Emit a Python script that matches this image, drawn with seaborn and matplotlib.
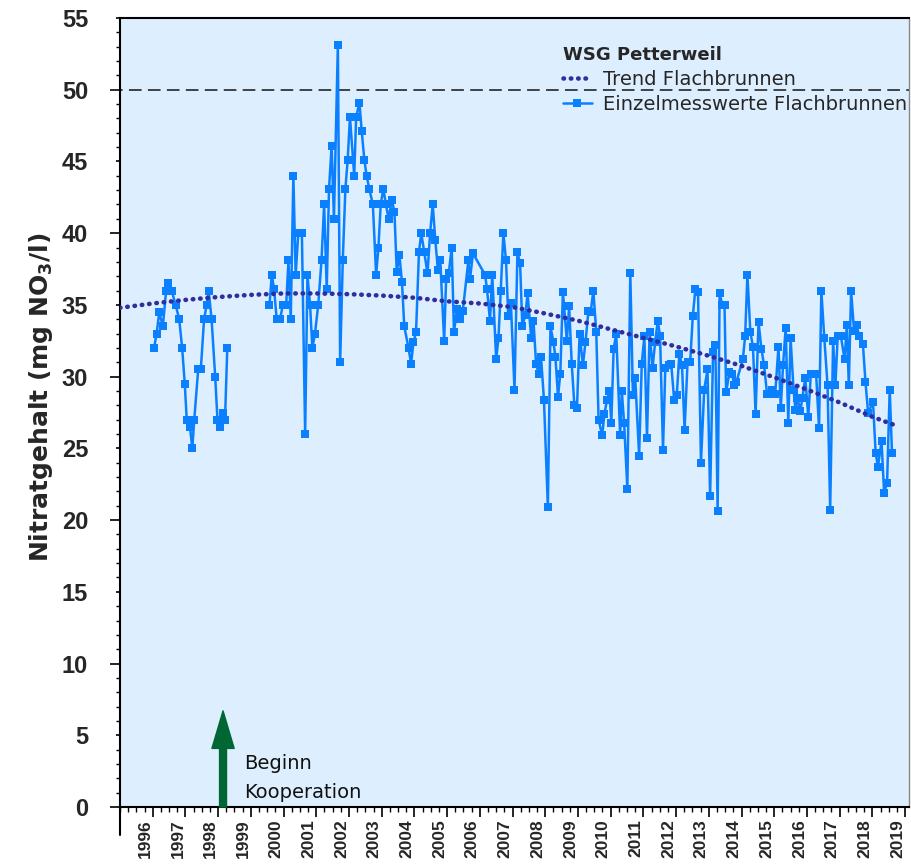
import matplotlib
matplotlib.use("Agg")
import numpy as np
import pandas as pd
import matplotlib.pyplot as plt
from matplotlib.lines import Line2D
from matplotlib.ticker import MultipleLocator, FixedLocator, FixedFormatter, NullFormatter
import seaborn as sns

# --- Einzelmesswerte Flachbrunnen (Dezimaljahr, mg NO3/l) ---
# Abschnitt 1: 1996 - Anfang 1998
jahr_1 = [1996.04, 1996.12, 1996.20, 1996.31, 1996.41, 1996.48, 1996.58, 1996.70,
          1996.81, 1996.90, 1996.98, 1997.04, 1997.14, 1997.21, 1997.27, 1997.39,
          1997.47, 1997.57, 1997.65, 1997.71, 1997.80, 1997.91, 1997.98, 1998.06,
          1998.14, 1998.21, 1998.28]
wert_1 = [32.0, 33.0, 34.5, 33.5, 36.0, 36.5, 36.0, 35.0,
          34.0, 32.0, 29.5, 27.0, 26.5, 25.0, 27.0, 30.5,
          30.5, 34.0, 35.0, 36.0, 34.0, 30.0, 27.0, 26.5,
          27.5, 27.0, 32.0]

# Abschnitt 2: Mitte 1999 - 2018
jahr_2 = [1999.57, 1999.64, 1999.71, 1999.79, 1999.89, 1999.98, 2000.08, 2000.15,
          2000.22, 2000.30, 2000.37, 2000.45, 2000.56, 2000.66, 2000.73, 2000.81,
          2000.88, 2000.96, 2001.06, 2001.16, 2001.24, 2001.32, 2001.39, 2001.47,
          2001.54, 2001.66, 2001.73, 2001.81, 2001.89, 2001.96, 2002.03, 2002.16,
          2002.22, 2002.32, 2002.39, 2002.47, 2002.54, 2002.62, 2002.73, 2002.83,
          2002.90, 2002.97, 2003.05, 2003.13, 2003.21, 2003.31, 2003.39, 2003.46,
          2003.54, 2003.62, 2003.69, 2003.82, 2003.90, 2003.97, 2004.05, 2004.14,
          2004.21, 2004.30, 2004.40, 2004.48, 2004.56, 2004.64, 2004.72, 2004.79,
          2004.91, 2004.97, 2005.05, 2005.14, 2005.21, 2005.30, 2005.38, 2005.48,
          2005.65, 2005.70, 2005.79, 2006.16, 2006.22, 2006.31, 2006.38, 2006.50,
          2006.57, 2006.64, 2006.72, 2006.80, 2006.87, 2006.95, 2007.06, 2007.15,
          2007.23, 2007.30, 2007.39, 2007.46, 2007.57, 2007.64, 2007.72, 2007.80,
          2007.87, 2007.96, 2008.08, 2008.16, 2008.25, 2008.31, 2008.39, 2008.46,
          2008.54, 2008.66, 2008.73, 2008.81, 2008.89, 2008.97, 2009.05, 2009.15,
          2009.23, 2009.32, 2009.39, 2009.47, 2009.56, 2009.63, 2009.74, 2009.81,
          2009.89, 2009.96, 2010.02, 2010.09, 2010.17, 2010.29, 2010.34, 2010.41,
          2010.51, 2010.60, 2010.68, 2010.75, 2010.87, 2010.95, 2011.03, 2011.11,
          2011.19, 2011.28, 2011.36, 2011.44, 2011.51, 2011.60, 2011.67, 2011.77,
          2011.85, 2011.94, 2012.02, 2012.10, 2012.18, 2012.26, 2012.35, 2012.43,
          2012.51, 2012.59, 2012.67, 2012.76, 2012.86, 2012.96, 2013.04, 2013.13,
          2013.20, 2013.27, 2013.33, 2013.41, 2013.48, 2013.53, 2013.63, 2013.71,
          2013.78, 2013.84, 2014.04, 2014.11, 2014.18, 2014.27, 2014.35, 2014.43,
          2014.52, 2014.61, 2014.69, 2014.78, 2014.88, 2014.94, 2015.03, 2015.13,
          2015.20, 2015.27, 2015.35, 2015.43, 2015.50, 2015.59, 2015.65, 2015.71,
          2015.80, 2015.86, 2015.95, 2016.04, 2016.12, 2016.22, 2016.28, 2016.37,
          2016.44, 2016.53, 2016.63, 2016.71, 2016.80, 2016.87, 2016.94, 2017.04,
          2017.15, 2017.22, 2017.28, 2017.35, 2017.44, 2017.52, 2017.60, 2017.71,
          2017.79, 2017.87, 2018.02, 2018.10, 2018.17, 2018.28, 2018.36, 2018.45,
          2018.53, 2018.60]
wert_2 = [35.0, 37.1, 36.1, 34.0, 34.0, 35.0, 35.0, 38.1,
          34.0, 44.0, 37.1, 40.0, 40.0, 26.0, 37.1, 35.0,
          32.0, 33.0, 35.0, 38.1, 42.0, 36.1, 43.1, 46.1,
          41.0, 53.1, 31.0, 38.1, 43.1, 45.1, 48.1, 44.0,
          48.1, 49.1, 47.1, 45.1, 44.0, 43.1, 42.0, 37.1,
          39.0, 42.0, 43.1, 42.0, 41.0, 42.3, 41.5, 37.3,
          38.5, 36.6, 33.5, 32.0, 30.9, 32.4, 33.1, 38.7,
          40.0, 38.7, 37.2, 40.0, 42.0, 39.5, 37.4, 38.1,
          32.5, 36.8, 37.2, 39.0, 33.1, 34.7, 34.0, 34.6,
          38.1, 36.8, 38.6, 37.1, 36.1, 33.9, 37.1, 31.2,
          32.7, 36.0, 40.0, 38.1, 34.2, 35.1, 29.1, 38.7,
          37.9, 33.5, 34.3, 35.8, 32.7, 33.9, 30.9, 30.2,
          31.4, 28.4, 20.9, 33.5, 32.4, 31.4, 28.6, 30.2,
          35.9, 32.5, 34.9, 30.9, 28.0, 27.8, 33.0, 30.8,
          32.4, 34.6, 34.5, 36.0, 33.1, 27.0, 25.9, 27.4,
          28.4, 29.0, 26.8, 31.9, 33.0, 25.9, 29.0, 26.8,
          22.2, 37.2, 28.7, 29.9, 24.5, 30.9, 32.8, 25.7,
          33.1, 30.6, 32.4, 33.9, 32.8, 24.9, 30.6, 30.8,
          30.9, 28.4, 28.7, 31.6, 30.8, 26.3, 31.0, 31.0,
          34.2, 36.1, 35.9, 24.0, 29.1, 30.5, 21.7, 31.7,
          32.2, 20.6, 35.8, 35.0, 35.0, 28.9, 30.3, 30.2,
          29.4, 29.6, 31.2, 32.8, 37.1, 33.1, 32.1, 27.4,
          33.8, 31.9, 30.8, 28.8, 28.8, 29.1, 28.8, 32.1,
          27.8, 30.8, 33.4, 26.8, 32.7, 29.1, 27.7, 28.5,
          27.6, 28.5, 29.9, 27.2, 30.2, 30.2, 30.2, 26.4,
          36.0, 32.7, 29.4, 20.7, 32.5, 29.4, 32.8, 32.8,
          31.2, 33.6, 29.4, 36.0, 33.2, 33.6, 32.8, 32.3,
          29.6, 27.5, 28.2, 24.7, 23.7, 25.5, 21.9, 22.6,
          29.1, 24.7]

# --- Trend Flachbrunnen ---
trend_jahr = [1995, 1996, 1997, 1998, 1999, 2000, 2001, 2002, 2003, 2004, 2005, 2006,
              2007, 2008, 2009, 2010, 2011, 2012, 2013, 2014, 2015, 2016, 2017, 2018,
              2018.65]
trend_wert = [34.8, 35.1, 35.35, 35.55, 35.7, 35.8, 35.8, 35.75, 35.65, 35.5, 35.25, 35.1,
              34.85, 34.4, 33.9, 33.3, 32.7, 32.1, 31.45, 30.75, 29.95, 29.1, 28.2, 27.2,
              26.65]

grenzwert = 50
kooperation_jahr = 1998.15
jahre = list(range(1996, 2020))

blau = "#0a80ff"
trend_farbe = "#2e2e9e"
hintergrund = "#ddeeff"

df = pd.concat([
    pd.DataFrame({"jahr": jahr_1, "wert": wert_1, "abschnitt": 1}),
    pd.DataFrame({"jahr": jahr_2, "wert": wert_2, "abschnitt": 2}),
])

# --- Plot ---
sns.set_theme(style="ticks")
plt.rcParams["font.family"] = ["Liberation Sans", "DejaVu Sans"]
plt.rcParams["mathtext.fontset"] = "dejavusans"

fig = plt.figure(figsize=(9.11, 8.64), dpi=100)
ax = fig.add_axes([120 / 911, 57 / 864, 789 / 911, 789 / 864])
ax.set_facecolor(hintergrund)

sns.lineplot(data=df, x="jahr", y="wert", units="abschnitt", estimator=None, sort=False,
             color=blau, lw=1.8, marker="s", markersize=5.2, markeredgewidth=0,
             legend=False, ax=ax, zorder=3)
sns.lineplot(x=trend_jahr, y=trend_wert, color=trend_farbe, lw=3.3,
             linestyle=(0, (0.1, 1.5)), dash_capstyle="round", legend=False,
             ax=ax, zorder=4)

ax.axhline(grenzwert, xmin=-0.013, xmax=1, color="#333333", lw=1.3,
           linestyle=(0, (7, 3.5)), clip_on=False, zorder=2)

# Pfeil "Beginn Kooperation"
ax.annotate("", xy=(kooperation_jahr, 6.7), xytext=(kooperation_jahr, 0),
            arrowprops=dict(facecolor="#006633", edgecolor="#006633",
                            width=5, headwidth=16, headlength=27, shrink=0))
ax.text(1998.79, 3.0, "Beginn", fontsize=14, family="DejaVu Sans", va="center", ha="left",
        color="#111111")
ax.text(1998.79, 1.0, "Kooperation", fontsize=14, family="DejaVu Sans", va="center",
        ha="left", color="#111111")

# Achsen
ax.set_xlim(1995, 2019.12)
ax.set_ylim(0, 55)
ax.xaxis.set_major_locator(FixedLocator(jahre))
ax.xaxis.set_major_formatter(FixedFormatter([str(j) for j in jahre]))
ax.xaxis.set_minor_locator(MultipleLocator(0.25))
ax.yaxis.set_major_locator(MultipleLocator(5))
ax.yaxis.set_minor_locator(MultipleLocator(1))
ax.yaxis.set_minor_formatter(NullFormatter())

ax.tick_params(axis="x", which="major", length=7, width=1.2, pad=2, color="black",
               labelsize=12.5, labelrotation=90)
ax.tick_params(axis="x", which="minor", length=3.5, width=1.0, color="black")
ax.tick_params(axis="y", which="major", length=3, width=1.2, pad=20, color="black",
               labelsize=17)
ax.tick_params(axis="y", which="minor", length=3, width=1.0, color="black")

# y-Achse ragt unten etwas heraus
ax.plot([0, 0], [0, -0.035], transform=ax.transAxes, color="black", lw=1.5,
        clip_on=False)

ax.set_xlabel("")
ax.set_ylabel("Nitratgehalt (mg NO$_\\mathbf{3}$/l)", fontsize=18, fontweight="bold",
              family="DejaVu Sans")
ax.yaxis.set_label_coords(-0.083, 0.52)

for s in ["left", "bottom", "top"]:
    ax.spines[s].set_color("black")
    ax.spines[s].set_linewidth(1.5)
ax.spines["right"].set_color("#888888")
ax.spines["right"].set_linewidth(1.0)

# Legende
handles = [
    Line2D([], [], color=trend_farbe, lw=3.3, linestyle=(0, (0.1, 1.5)),
           dash_capstyle="round"),
    Line2D([], [], color=blau, lw=1.8, marker="s", markersize=5.2, markeredgewidth=0),
]
leg = ax.legend(handles, ["Trend Flachbrunnen", "Einzelmesswerte Flachbrunnen"],
                title="WSG Petterweil", loc="upper left", bbox_to_anchor=(0.561, 0.964),
                frameon=False, alignment="left", borderpad=0, borderaxespad=0,
                handlelength=1.5, handletextpad=0.6, labelspacing=0.3,
                prop={"family": "DejaVu Sans", "size": 14},
                title_fontproperties={"family": "DejaVu Sans", "size": 13, "weight": "bold"})
leg.set_zorder(5)

fig.canvas.draw()
for lbl in ax.get_xticklabels():
    lbl.set_fontweight("bold")
    lbl.set_horizontalalignment("right")
for lbl in ax.get_yticklabels():
    lbl.set_fontweight("bold")
for t in ax.yaxis.get_major_ticks():
    if round(t.get_loc()) % 10 == 0:
        t.tick1line.set_markersize(7)

fig.savefig("out.png", dpi=100, facecolor="white")
